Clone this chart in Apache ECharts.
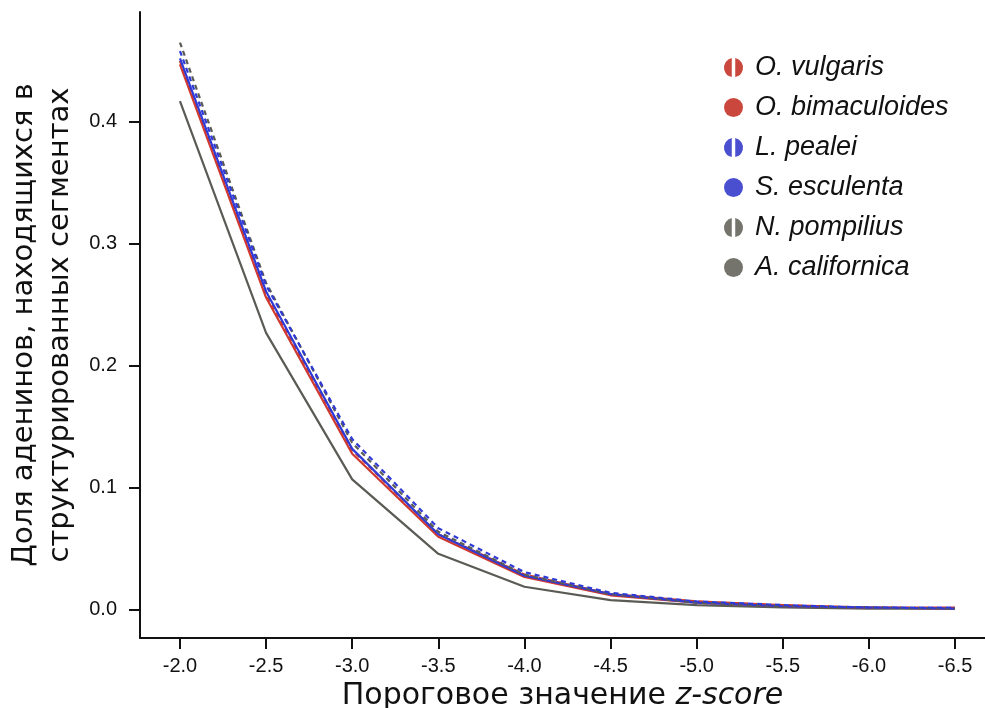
<!DOCTYPE html>
<html><head><meta charset="utf-8">
<script src="https://cdn.jsdelivr.net/npm/echarts@6/dist/echarts.min.js"></script>
<style>html,body{margin:0;padding:0;background:#fff}#c{width:985px;height:708px}</style>
</head><body><div id="c"></div>
<script>
const zScores = [-2.0, -2.5, -3.0, -3.5, -4.0, -4.5, -5.0, -5.5, -6.0, -6.5];
const yTicks = [0.0, 0.1, 0.2, 0.3, 0.4];
const oVulgaris     = [0.450, 0.259, 0.131, 0.062, 0.029, 0.013, 0.007, 0.004, 0.002, 0.002];
const oBimaculoides = [0.447, 0.256, 0.128, 0.060, 0.027, 0.012, 0.006, 0.003, 0.002, 0.001];
const lPealei       = [0.458, 0.266, 0.140, 0.067, 0.031, 0.014, 0.007, 0.004, 0.002, 0.002];
const sEsculenta    = [0.452, 0.261, 0.132, 0.062, 0.028, 0.013, 0.006, 0.003, 0.002, 0.001];
const nPompilius    = [0.465, 0.268, 0.137, 0.064, 0.029, 0.013, 0.006, 0.003, 0.002, 0.001];
const aCalifornica  = [0.417, 0.227, 0.107, 0.046, 0.019, 0.008, 0.004, 0.002, 0.001, 0.001];
const names = ['O. vulgaris','O. bimaculoides','L. pealei','S. esculenta','N. pompilius','A. californica'];

const RED = '#d0392f', BLUE = '#2f3ad6', GRAY = '#5b5b55';
const LRED = '#c9473c', LBLUE = '#4a4fd0', LGRAY = '#74746c';
const halfIcon = 'path://M4.1,0.1 A5,5 0 0 0 4.1,9.9 Z M5.9,0.1 A5,5 0 0 1 5.9,9.9 Z';

function pairs(vals){ return zScores.map((z,i)=>[z, vals[i]]); }
function mk(name, vals, color, legendColor, dashed){
  return {
    name, type:'line', data: pairs(vals), symbol:'none', smooth:false,
    lineStyle:{color, width:2.2, type: dashed ? [5,4] : 'solid'},
    itemStyle:{color: legendColor},
    emphasis:{disabled:true}
  };
}
const series = [
  mk(names[5], aCalifornica, GRAY, LGRAY, false),
  mk(names[1], oBimaculoides, RED, LRED, false),
  mk(names[0], oVulgaris, RED, LRED, true),
  mk(names[3], sEsculenta, BLUE, LBLUE, false),
  mk(names[4], nPompilius, GRAY, LGRAY, true),
  mk(names[2], lPealei, BLUE, LBLUE, true)
];

const chart = echarts.init(document.getElementById('c'), null, {renderer:'canvas'});
chart.setOption({
  backgroundColor:'#fff',
  animation:false,
  grid:{left:140, right:0, top:12, bottom:70, containLabel:false, outerBoundsMode:'none'},
  legend:{
    data: names.map((n,i)=>({name:n, icon: i%2===0 ? halfIcon : 'circle'})),
    orient:'vertical', left:719, top:49, itemWidth:19, itemHeight:19, itemGap:13,
    textStyle:{fontFamily:'Liberation Sans, Arial', fontStyle:'italic', fontSize:27, lineHeight:25.5,
      color:'#111', padding:[0,0,0,7]},
    selectedMode:false
  },
  xAxis:{
    type:'value', inverse:true, min:-6.674, max:-1.768,
    axisLine:{onZero:false, lineStyle:{color:'#111', width:2}},
    axisTick:{show:true, length:11, lineStyle:{color:'#111', width:2}, customValues: zScores},
    axisLabel:{customValues: zScores, formatter:v=>v.toFixed(1), margin:18,
      fontFamily:'Liberation Sans, Arial', fontSize:20, color:'#111'},
    splitLine:{show:false},
    name:'{n|Пороговое значение }{i|z-score}', nameLocation:'middle', nameGap:40,
    nameTextStyle:{rich:{
      n:{fontFamily:'DejaVu Sans', fontSize:30, color:'#111'},
      i:{fontFamily:'DejaVu Sans', fontSize:30, fontStyle:'italic', color:'#111'}
    }}
  },
  yAxis:{
    type:'value', min:-0.023, max:0.49,
    axisLine:{show:true, onZero:false, lineStyle:{color:'#111', width:2}},
    axisTick:{show:true, length:11, lineStyle:{color:'#111', width:2}, customValues: yTicks},
    axisLabel:{customValues: yTicks, formatter:v=>v.toFixed(1), margin:23,
      fontFamily:'Liberation Sans, Arial', fontSize:20, color:'#111'},
    splitLine:{show:false},
    name:'Доля аденинов, находящихся в\nструктурированных сегментах',
    nameLocation:'middle', nameGap:62, nameRotate:90,
    nameTextStyle:{fontFamily:'DejaVu Sans', fontSize:29, color:'#111', lineHeight:36}
  },
  series
});
</script></body></html>
